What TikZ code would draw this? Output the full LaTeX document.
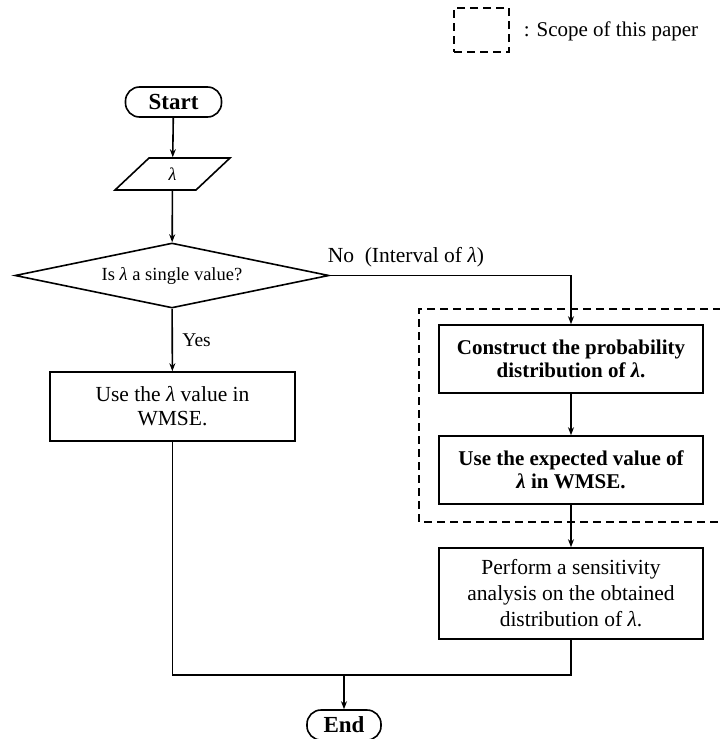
\documentclass[tikz,border=0pt]{standalone}
\usepackage{fontspec}
\setmainfont{Liberation Serif}
\usetikzlibrary{shapes.geometric,arrows.meta}
\newcommand{\lam}{{\itshape λ}}
\begin{document}
\begin{tikzpicture}[x=1pt,y=-1pt,
  line width=1.6pt,
  reg/.style={font=\fontsize{18}{24}\selectfont},
  big/.style={font=\fontsize{21.5}{24}\selectfont},
  bld/.style={font=\fontsize{21}{23}\selectfont\bfseries},
  term/.style={draw,rounded corners=14pt,minimum width=96pt,minimum height=30pt,inner sep=0pt,font=\fontsize{23}{24}\selectfont\bfseries},
  procbox/.style={draw,rectangle,align=center,inner sep=0pt},
  conn/.style={-{Stealth[length=8pt,width=6pt]},line width=1.6pt},
  plain/.style={line width=1.6pt},
  scopeline/.style={dashed,dash pattern=on 8pt off 5pt,line width=1.5pt}
]
\useasboundingbox (0,0) rectangle (720,739);

% legend
\node[draw,scopeline,minimum width=55pt,minimum height=44pt,inner sep=0pt] (leg) at (481.5,30) {};
\node[anchor=west,inner sep=0pt,font=\fontsize{21}{24}\selectfont] (legtxt) at (523,31) {: Scope of this paper};

% nodes
\node[term] (start) at (173.5,102) {Start};
\node[draw,trapezium,trapezium left angle=66,trapezium right angle=114,trapezium stretches=true,minimum width=115pt,minimum height=32pt,inner sep=0pt,reg] (lam) at (172.5,174) {\lam};
\node[draw,diamond,shape aspect=4.8,minimum width=314pt,minimum height=65pt,inner sep=0pt,font=\fontsize{18.5}{24}\selectfont] (dec) at (172,275.5) {Is \lam\ a single value?};
\node[procbox,big,minimum width=245pt,minimum height=69pt] (useval) at (172.5,406.5) {Use the \lam\ value in\\WMSE.};
\node[procbox,bld,minimum width=264pt,minimum height=68pt] (constr) at (571,359) {Construct the probability\\distribution of \lam.};
\node[procbox,bld,minimum width=264pt,minimum height=68pt] (expv) at (571,470) {Use the expected value of\\\lam\ in WMSE.};
\node[procbox,minimum width=264pt,minimum height=91pt,font=\fontsize{21.5}{26}\selectfont] (sens) at (571,593.5) {Perform a sensitivity\\analysis on the obtained\\distribution of \lam.};
\node[term,minimum width=74pt] (end) at (344,725) {End};

% scope region
\draw[scopeline] (721,309) -- (419,309) -- (419,522) -- (721,522);

% connectors
\draw[conn] (start) -- (lam);
\draw[conn] (lam) -- (dec);
\draw[conn] (dec) -- node[anchor=west,pos=0.5,xshift=6pt,font=\fontsize{19.5}{24}\selectfont] (yes) {Yes} (useval);
\coordinate (nocorner) at (571,275.5);
\draw[conn] (dec.east) -- (nocorner) -- (constr.north);
\node[big,anchor=south west,inner sep=0pt] (nolbl) at (327,268) {No\ \ (Interval of \lam)};
\draw[conn] (constr) -- (expv);
\draw[conn] (expv) -- (sens);
\coordinate (mergeL) at (172.5,675);
\coordinate (mergeR) at (571,675);
\coordinate (mergeC) at (344,675);
\draw[plain] (useval.south) -- (mergeL) -- (mergeR) -- (sens.south);
\draw[conn] (mergeC) -- (end.north);
\end{tikzpicture}
\end{document}
